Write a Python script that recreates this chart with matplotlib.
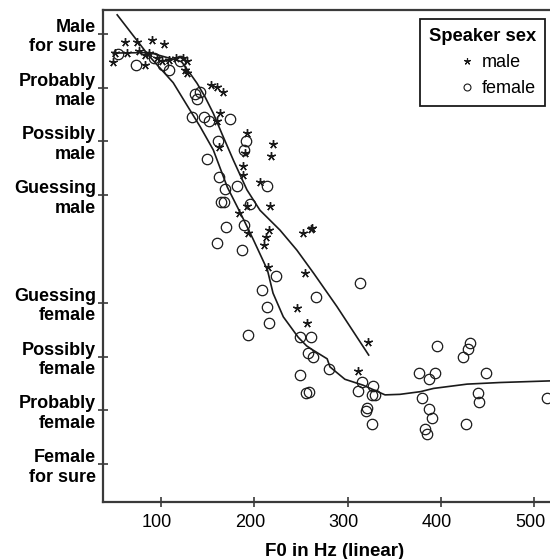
import matplotlib
matplotlib.use("Agg")
import matplotlib.pyplot as plt
from matplotlib.transforms import ScaledTranslation
from matplotlib.lines import Line2D

plt.rcParams['font.family'] = ['Liberation Sans', 'DejaVu Sans']

# ---- data ----
male_f0 = [61, 74, 90, 103, 48, 51, 63, 76, 83, 87.5, 83, 96, 101, 108, 116, 123, 128, 128, 126,
           154, 160, 166, 163, 160, 192, 162.5, 190, 218, 220, 188, 187.5, 206, 192.5, 217, 184,
           215.5, 212, 210.5, 193.5, 252, 260.5, 262, 214.5, 254.5, 245.5, 256, 322, 311.5]
male_rating = [3.84, 3.84, 3.88, 3.80, 3.47, 3.64, 3.64, 3.67, 3.61, 3.64, 3.41, 3.54, 3.49, 3.52, 3.55, 3.55, 3.49, 3.27, 3.33,
               3.05, 3.01, 2.91, 2.52, 2.37, 2.16, 1.89, 1.79, 1.72, 1.95, 1.54, 1.38, 1.25, 0.79, 0.80, 0.66,
               0.35, 0.23, 0.07, 0.29, 0.29, 0.37, 0.39, -0.34, -0.45, -1.10, -1.38, -1.72, -2.26]

female_f0 = [54, 73, 92, 102.5, 108, 120.5,
             136.5, 142, 138.5, 133, 145.5, 151.5, 174, 161.5, 191, 188.5, 149, 162.5, 168.5, 181.5, 214,
             164.5, 167.5, 195.5, 169.5, 189, 159.5, 186.5, 223, 208.5, 213.5, 216, 193.5, 313.5, 266,
             249, 260.5, 257.5, 262.5, 279.5, 248.5, 255.5, 259, 315.5, 311.5, 327.5, 326, 329.5, 320.5,
             319.5, 326.5, 376.5, 395.5, 431.5, 428.5, 423.5, 394, 387.5, 448.5, 379.5, 439.5, 440.5,
             387, 390.5, 382.5, 384.5, 427, 513.5]
female_rating = [3.63, 3.41, 3.55, 3.41, 3.33, 3.49,
                 2.88, 2.92, 2.78, 2.46, 2.46, 2.37, 2.41, 2.01, 2.00, 1.83, 1.67, 1.33, 1.12, 1.17, 1.17,
                 0.87, 0.87, 0.84, 0.41, 0.45, 0.12, -0.01, -0.50, -0.76, -1.08, -1.38, -1.59, -0.64, -0.89,
                 -1.64, -1.64, -1.93, -2.01, -2.22, -2.34, -2.67, -2.65, -2.47, -2.63, -2.55, -2.72, -2.72, -2.96,
                 -3.01, -3.26, -2.30, -1.80, -1.75, -1.85, -2.01, -2.30, -2.42, -2.30, -2.76, -2.67, -2.84,
                 -2.97, -3.14, -3.34, -3.43, -3.26, -2.76]

male_curve_f0 = [49, 88, 95.5, 110, 122, 129.5, 138.5, 147, 156, 165, 177.5, 192, 206, 227.5, 245.5, 263.5, 288.5, 322.5]
male_curve_rating = [3.64, 3.65, 3.61, 3.54, 3.48, 3.30, 3.08, 2.83, 2.52, 2.15, 1.65, 1.10, 0.72, 0.35, -0.02, -0.45, -1.07, -1.97]

female_curve_f0 = [53, 86, 113, 131, 142, 156, 171, 185, 199, 214, 220, 231, 247, 256, 263, 278, 281,
                   297, 316.5, 340, 356, 378, 392, 428, 463.5, 535]
female_curve_rating = [4.35, 3.61, 3.09, 2.58, 2.27, 1.84, 1.15, 0.67, 0.17, -0.39, -0.82, -1.26, -1.64, -1.80, -1.88, -2.04, -2.19,
                       -2.42, -2.53, -2.71, -2.70, -2.65, -2.59, -2.51, -2.48, -2.44]

y_tick_values = [4, 3, 2, 1, -1, -2, -3, -4]
y_tick_labels = ["Male\nfor sure", "Probably\nmale", "Possibly\nmale", "Guessing\nmale",
                 "Guessing\nfemale", "Possibly\nfemale", "Probably\nfemale", "Female\nfor sure"]
x_tick_values = [100, 200, 300, 400, 500]

# ---- figure ----
W, H = 550, 559
fig = plt.figure(figsize=(W / 100, H / 100), dpi=100)
ax = fig.add_axes([103 / W, (H - 502) / H, (567 - 103) / W, 492 / H])

spine_col = '#3a3a3a'
ax.plot(female_curve_f0, female_curve_rating, color='#1a1a1a', lw=1.2, zorder=2)
ax.plot(male_curve_f0, male_curve_rating, color='#1a1a1a', lw=1.2, zorder=2)

star = (5, 2, 0)
ax.plot(female_f0, female_rating, linestyle='none', marker='o', markersize=7.5,
        markerfacecolor='none', markeredgecolor='#1a1a1a', markeredgewidth=0.9, zorder=3)
ax.plot(male_f0, male_rating, linestyle='none', marker=star, markersize=6.3,
        markeredgecolor='#1a1a1a', markeredgewidth=1.0, zorder=4)

ax.set_xlim(37.8, 535)
ax.set_ylim(-4.70, 4.44)

for s in ['left', 'bottom', 'top']:
    ax.spines[s].set_color(spine_col)
    ax.spines[s].set_linewidth(1.6)
ax.spines['right'].set_visible(False)

ax.set_xticks(x_tick_values)
ax.set_xticklabels([str(v) for v in x_tick_values])
ax.set_yticks(y_tick_values)
ax.set_yticklabels(y_tick_labels, fontweight='bold', multialignment='right')
ax.tick_params(axis='both', direction='inout', length=7, width=1.2, color=spine_col)
ax.tick_params(axis='x', labelsize=13, pad=5, top=False)
ax.tick_params(axis='y', labelsize=13, pad=1.5, right=False)
for lab in ax.get_xticklabels():
    lab.set_transform(lab.get_transform() + ScaledTranslation(-4 / 100, 0, fig.dpi_scale_trans))

ax.set_xlabel("F0 in Hz (linear)", fontsize=13.5, fontweight='bold')
ax.xaxis.set_label_coords((335 - 103) / 464, -0.083)

handles = [Line2D([], [], linestyle='none', marker=star, markersize=5, markeredgecolor='#1a1a1a', markeredgewidth=0.8),
           Line2D([], [], linestyle='none', marker='o', markersize=5, markerfacecolor='none', markeredgecolor='#1a1a1a', markeredgewidth=0.8)]
leg = ax.legend(handles, ['male', 'female'], title='Speaker sex', loc='upper right',
                bbox_to_anchor=((545 - 103) / 464, (502 - 19) / 492), borderaxespad=0,
                fontsize=13, title_fontproperties={'weight': 'bold', 'size': 13.2},
                fancybox=False, framealpha=1, edgecolor='#1a1a1a', handlelength=0.6,
                handletextpad=0.5, labelspacing=0.5, borderpad=0.5, alignment='right')
leg.get_frame().set_linewidth(1.3)

fig.savefig("out.png", dpi=100)
